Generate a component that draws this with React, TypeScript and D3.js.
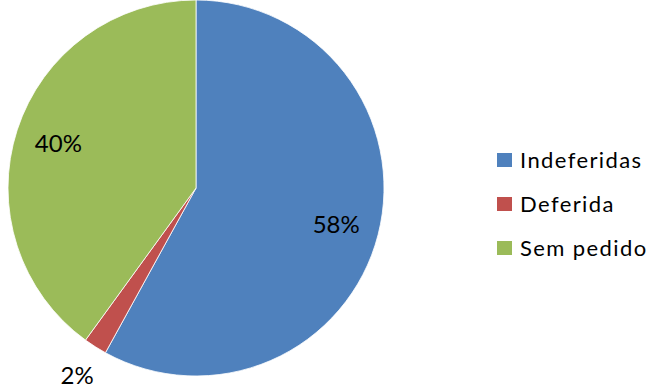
import React from 'react';
import * as d3 from 'd3';

const categories = ['Indeferidas', 'Deferida', 'Sem pedido'];
const values = [58, 2, 40];
const colors = ['#4F81BD', '#C0504D', '#9BBB59'];
const labels = ['58%', '2%', '40%'];

const width = 650;
const height = 388;

const App: React.FC = () => {
  const svgRef = React.useRef<SVGSVGElement>(null);

  React.useEffect(() => {
    const svgEl = d3.select(svgRef.current);
    svgEl.selectAll('*').remove();

    const cx = 196;
    const cy = 188;
    const radius = 188;

    const pie = d3
      .pie<number>()
      .sort(null)
      .value((d) => d);
    const arcs = pie(values);

    const arc = d3.arc<d3.PieArcDatum<number>>().innerRadius(0).outerRadius(radius);
    const g = svgEl.append('g').attr('transform', `translate(${cx},${cy})`);

    g.selectAll('path.slice')
      .data(arcs)
      .enter()
      .append('path')
      .attr('class', 'slice')
      .attr('d', arc)
      .attr('fill', (d, i) => colors[i])
      .attr('stroke', '#fff')
      .attr('stroke-width', 0.8);

    // labels: inside for big slices, outside for small one
    const insideArc = d3
      .arc<d3.PieArcDatum<number>>()
      .innerRadius(radius * 0.77)
      .outerRadius(radius * 0.77);
    const outsideArc = d3
      .arc<d3.PieArcDatum<number>>()
      .innerRadius(radius * 1.18)
      .outerRadius(radius * 1.18);

    g.selectAll('text.lbl')
      .data(arcs)
      .enter()
      .append('text')
      .attr('class', 'lbl')
      .attr('transform', (d) => {
        const small = d.endAngle - d.startAngle < 0.3;
        const [x, y] = small ? outsideArc.centroid(d) : insideArc.centroid(d);
        return `translate(${x},${y})`;
      })
      .attr('text-anchor', 'middle')
      .attr('dy', '0.36em')
      .attr('font-family', 'Lato, sans-serif')
      .attr('font-size', 24)
      .attr('fill', '#000')
      .text((d, i) => labels[i]);

    // legend
    const legendY = d3.scaleBand<string>().domain(categories).range([138, 270]);
    const legend = svgEl
      .append('g')
      .selectAll('g')
      .data(categories)
      .enter()
      .append('g')
      .attr('transform', (d) => `translate(497,${(legendY(d) ?? 0) + legendY.bandwidth() / 2})`);

    legend
      .append('rect')
      .attr('x', 0)
      .attr('y', -7)
      .attr('width', 15)
      .attr('height', 14)
      .attr('fill', (d, i) => colors[i]);

    legend
      .append('text')
      .attr('x', 23)
      .attr('y', 0)
      .attr('dy', '0.36em')
      .attr('font-family', 'Lato, sans-serif')
      .attr('font-size', 22)
      .attr('letter-spacing', 1.4)
      .attr('fill', '#000')
      .text((d) => d);
  }, []);

  return (
    <svg
      ref={svgRef}
      width={width}
      height={height}
      style={{ position: 'absolute', left: 0, top: 0, background: '#fff' }}
    />
  );
};

export default App;
